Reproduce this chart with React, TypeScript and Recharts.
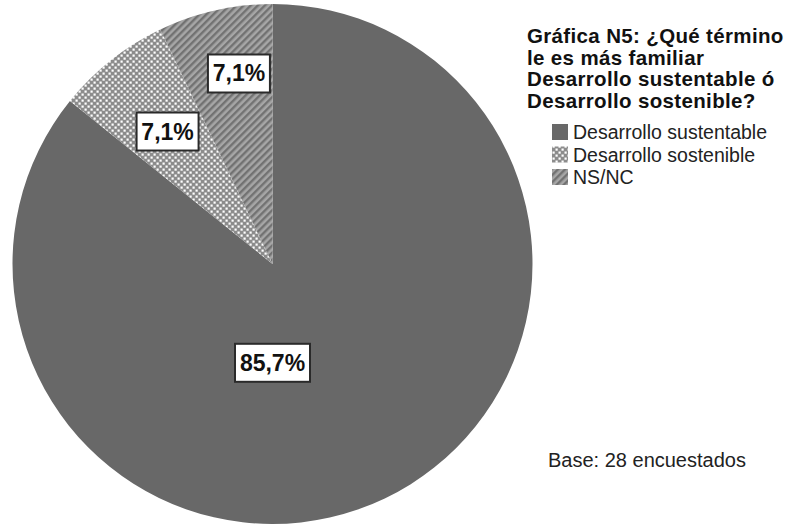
import React from "react";
import { PieChart, Pie, Cell } from "recharts";

const categories = ["Desarrollo sustentable", "Desarrollo sostenible", "NS/NC"];
const values = [85.7, 7.1, 7.1];
const valueLabels = ["85,7%", "7,1%", "7,1%"];
const titleLines = [
  "Gráfica N5: ¿Qué término",
  "le es más familiar",
  "Desarrollo sustentable ó",
  "Desarrollo sostenible?",
];
const baseNote = "Base: 28 encuestados";

const data = categories.map((name, i) => ({ name, value: values[i], label: valueLabels[i] }));

const FONT = "'Liberation Sans', Arial, Helvetica, sans-serif";
const fills = ["#686868", "url(#dotsP)", "url(#hatchP)"];
const legendFills = ["#686868", "url(#dotsL)", "url(#hatchL)"];

const PatternDefs = ({ suffix }: { suffix: string }) => (
  <defs>
    <pattern id={`dots${suffix}`} width="6" height="6" patternUnits="userSpaceOnUse">
      <rect width="6" height="6" fill="#8c8c8c" />
      <rect x="0.5" y="0.5" width="2.2" height="2.2" fill="#ffffff" />
      <rect x="3.5" y="3.5" width="2.2" height="2.2" fill="#ffffff" />
    </pattern>
    <pattern
      id={`hatch${suffix}`}
      width="5"
      height="5"
      patternUnits="userSpaceOnUse"
      patternTransform="rotate(45)"
    >
      <rect width="5" height="5" fill="#a6a6a6" />
      <rect width="2.4" height="5" fill="#727272" />
    </pattern>
  </defs>
);

const RAD = Math.PI / 180;

const renderLabel = (props: any) => {
  const { cx, cy, outerRadius, midAngle, index } = props;
  let angle = midAngle;
  let frac = 0.65;
  if (index === 0) {
    angle = -90;
    frac = 0.38;
  } else if (index === 2) {
    angle = midAngle - 2.8;
    frac = 0.744;
  }
  const x = cx + outerRadius * frac * Math.cos(-angle * RAD);
  const y = cy + outerRadius * frac * Math.sin(-angle * RAD);
  const text = data[index].label;
  const w = index === 0 ? 75 : 62;
  const h = 38;
  return (
    <g key={`lbl-${index}`}>
      <rect
        x={x - w / 2}
        y={y - h / 2}
        width={w}
        height={h}
        fill="#ffffff"
        stroke="#2a2a2a"
        strokeWidth={2}
      />
      <text
        x={x}
        y={y + 8}
        textAnchor="middle"
        fontFamily={FONT}
        fontWeight="bold"
        fontSize={23}
        fill="#111111"
      >
        {text}
      </text>
    </g>
  );
};

export default function App() {
  return (
    <div
      style={{
        position: "absolute",
        left: 0,
        top: 0,
        width: 799,
        height: 529,
        background: "#ffffff",
        overflow: "hidden",
      }}
    >
      <PieChart width={799} height={529} margin={{ top: 0, right: 0, bottom: 0, left: 0 }}>
        <PatternDefs suffix="P" />
        <Pie
          data={data}
          dataKey="value"
          nameKey="name"
          cx={272.5}
          cy={264}
          outerRadius={260}
          startAngle={90}
          endAngle={-270}
          stroke="none"
          isAnimationActive={false}
          labelLine={false}
          label={renderLabel}
        >
          {data.map((d, i) => (
            <Cell key={d.name} fill={fills[i]} stroke="none" />
          ))}
        </Pie>
      </PieChart>

      <div
        style={{
          position: "absolute",
          left: 527,
          top: 25,
          fontFamily: FONT,
          fontWeight: "bold",
          fontSize: 20.5,
          lineHeight: "21.5px",
          letterSpacing: "0.35px",
          color: "#111111",
          whiteSpace: "nowrap",
        }}
      >
        {titleLines.map((t) => (
          <div key={t}>{t}</div>
        ))}
      </div>

      <svg
        style={{ position: "absolute", left: 540, top: 115 }}
        width={259}
        height={80}
      >
        <PatternDefs suffix="L" />
        {categories.map((c, i) => {
          const cyRow = 17 + i * 22.5;
          return (
            <g key={c}>
              <rect x={12} y={cyRow - 8} width={16} height={16} fill={legendFills[i]} />
              <text
                x={33}
                y={cyRow + 7}
                fontFamily={FONT}
                fontSize={19.5}
                fill="#222222"
              >
                {c}
              </text>
            </g>
          );
        })}
      </svg>

      <div
        style={{
          position: "absolute",
          left: 548,
          top: 450,
          fontFamily: FONT,
          fontSize: 20,
          lineHeight: "20px",
          color: "#222222",
          whiteSpace: "nowrap",
        }}
      >
        {baseNote}
      </div>
    </div>
  );
}
